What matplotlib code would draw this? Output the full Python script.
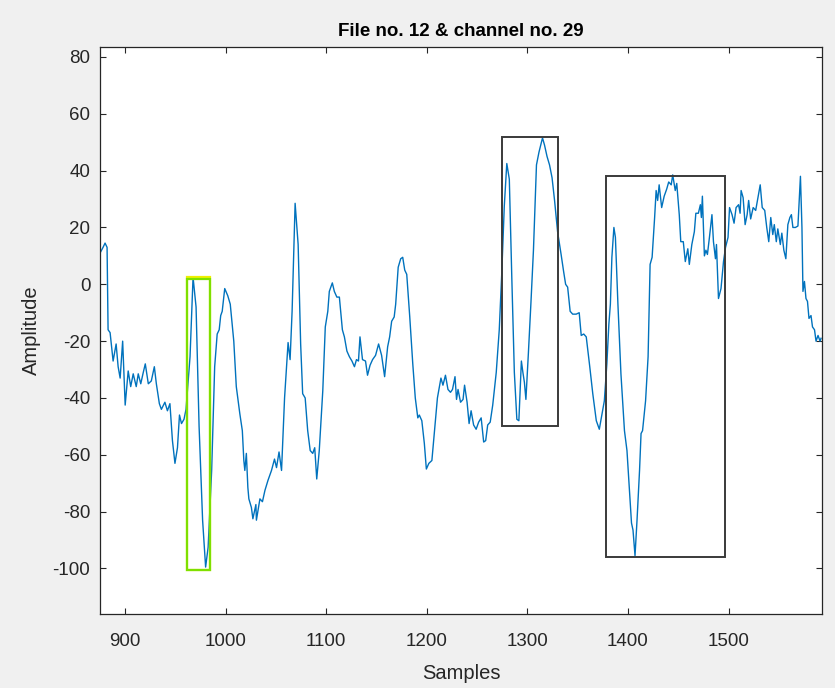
import matplotlib
matplotlib.use("Agg")
import matplotlib.pyplot as plt
from matplotlib.patches import Rectangle

# signal (sample index, amplitude)
samples = [
    875, 878, 880, 882, 883, 885, 888, 891, 893, 895, 897.5, 900, 903, 905.5, 908, 911, 913,
    915.5, 918, 920, 923, 926, 929, 931, 934, 936, 939.5, 942, 944.5, 947, 949.5, 952, 954,
    956, 958.5, 960.5, 964.5, 967.5, 970.5, 973.5, 977, 980, 982.5, 986, 989, 991.5, 993.5,
    995, 996.5, 999, 1002, 1004.5, 1008, 1010.5, 1014, 1016.5, 1018, 1019, 1020.5, 1022,
    1023, 1025.5, 1027, 1030, 1030.5, 1034, 1036.5, 1039, 1042, 1045.5, 1048.5, 1050.5,
    1053, 1055.5, 1058.5, 1062, 1064, 1066, 1069, 1072, 1074.5, 1076.5, 1079, 1081.5, 1084,
    1086.5, 1088.5, 1090.5, 1093, 1096.5, 1099, 1101.5, 1103, 1106, 1108, 1110.5, 1113, 1116,
    1118, 1120.5, 1123, 1125.5, 1128, 1130, 1132, 1133.5, 1136, 1139, 1141, 1143.5, 1146,
    1149, 1152, 1155, 1158, 1161, 1163, 1165, 1167.5, 1169, 1171.5, 1174, 1176, 1178, 1180,
    1183, 1186, 1188.5, 1191, 1192.5, 1195, 1197.5, 1199.5, 1202, 1205, 1207.5, 1210.5,
    1214, 1216, 1218.5, 1221, 1223.5, 1225.5, 1228, 1229.5, 1231, 1233.5, 1236, 1237.5, 1240,
    1242, 1244, 1246.5, 1249, 1251.5, 1254, 1256.5, 1258.5, 1260.5, 1263, 1265.5, 1269, 1272,
    1274.5, 1277, 1279.5, 1282, 1284.5, 1287, 1289.5, 1291.5, 1294, 1295.5, 1297, 1298.5,
    1301, 1303.5, 1306, 1309, 1311.5, 1315, 1317, 1319.5, 1322, 1324.5, 1327, 1330, 1333.5,
    1336, 1338, 1340, 1342.5, 1345, 1348.5, 1351.5, 1353.5, 1356, 1358.5, 1362, 1365, 1368.5,
    1371.5, 1373, 1376.5, 1379, 1381, 1382.5, 1384, 1386, 1387.5, 1390, 1393, 1396.5, 1399,
    1401.5, 1403.5, 1405, 1407, 1409, 1411.5, 1413, 1414.5, 1417.5, 1420, 1422, 1424, 1426.5,
    1428, 1429.5, 1431, 1433.5, 1436, 1438.5, 1440.5, 1443, 1444.5, 1447, 1448.5, 1451,
    1452.5, 1455, 1457, 1459.5, 1461, 1463.5, 1466, 1467.5, 1470, 1472, 1473, 1474, 1476,
    1477.5, 1479, 1481, 1483.5, 1485, 1487, 1488, 1490, 1492.5, 1495, 1497, 1499.5, 1501,
    1503.5, 1505.5, 1507.5, 1510, 1511.5, 1512.5, 1514.5, 1516.5, 1518.5, 1520, 1522,
    1524.5, 1527, 1529.5, 1531.5, 1533.5, 1536, 1538, 1540, 1542, 1544, 1545.5, 1547.5,
    1549, 1551.5, 1553, 1555, 1557, 1559, 1561, 1562.5, 1564, 1566.5, 1569, 1571.5, 1573,
    1574, 1575.5, 1577, 1578.5, 1580, 1582, 1583.5, 1585.5, 1587, 1589, 1591, 1592,
]
amplitude = [
    11, 13, 14.5, 13, -16, -17, -27, -21, -29, -33, -20, -42.5, -30.5, -36, -31.5, -36, -31.5,
    -35, -31, -28, -35, -34, -29, -35, -42, -44, -41.5, -44.5, -42, -55, -63, -57.5, -46,
    -49, -47.5, -44, -25.5, 2.5, -8, -50, -83, -99.5, -92.5, -65.5, -29, -17.5, -16,
    -11, -9.5, -1.5, -4, -7, -20, -36, -45.5, -51.5, -62, -65.5, -59.5, -71.5,
    -75.5, -78.5, -82.5, -77.5, -83, -75.5, -76.5, -72.5, -69, -65.5, -61.5, -64.5,
    -59, -65.5, -40, -20.5, -26.5, -9.5, 28.5, 14, -21, -38.5, -40, -51.5, -58.5,
    -59.5, -57.5, -68.5, -58.5, -37.5, -15, -9.5, -2.5, 0.5, -2.5, -4.5, -4.5, -16,
    -18.5, -23.5, -25.5, -27, -29, -26.5, -27, -18.5, -26.5, -27, -32, -28.5, -26.5,
    -25, -21, -25, -32.5, -22, -18.5, -13, -11.5, -7, 6, 9, 9.5, 5, 3.5,
    -11.5, -28, -40, -47, -46, -48, -56, -65, -63, -62, -52, -40,
    -33, -35.5, -32, -37, -38, -37, -32.5, -40.5, -37, -41.5, -40.5, -35.5, -41.5,
    -49, -44.5, -49.5, -51, -48.5, -47, -55.5, -55, -49.5, -48.5, -42.5, -31, -16,
    4, 27.5, 42.5, 37, 2, -31, -47.5, -48, -27, -31, -34.5, -40.5,
    -24, -6.5, 12, 42, 46.5, 51.5, 49, 45, 42, 37.5, 29.5, 18.5, 10.5,
    4.5, 0, -1, -9.5, -10.5, -10.5, -10, -18, -17.5, -18.5, -29, -38.5, -48,
    -51, -48, -41, -28, -14, -7, 9.5, 20, 16.5, -7, -31.5, -51.5, -58.5,
    -72.5, -84, -86.5, -95.5, -83, -65.5, -52.5, -51.5, -41, -25.5, 7, 9.5, 23.5,
    33, 29.5, 35, 27, 31, 33.5, 36, 35, 38.5, 33, 35.5, 24.5,
    15, 15, 8, 12.5, 7, 14, 18.5, 25, 25, 28, 23.5, 31, 10,
    12, 10.5, 16.5, 24.5, 15, 9, 14, -5, -1.5, 8, 13, 16.5, 27,
    24.5, 21.5, 27, 28, 25, 33, 30.5, 21, 24.5, 29.5, 23,
    27, 26, 31, 35, 27, 26, 20, 15, 23.5, 17.5, 21, 15,
    19.5, 14, 18, 12, 9, 21, 23.5, 24.5, 20, 20, 20.5, 38, 20,
    -2.5, 1, -5, -6, -12, -11, -15, -16, -20, -18, -20, -19,
]

# marked regions: (x0, x1, y0, y1)
green_box = (961.5, 984.4, -100.5, 2.0)
black_boxes = [(1274.7, 1330.4, -49.7, 51.7), (1378.1, 1496.5, -96.0, 38.0)]

x_ticks = [900, 1000, 1100, 1200, 1300, 1400, 1500]
y_ticks = [-100, -80, -60, -40, -20, 0, 20, 40, 60, 80]

plt.rcParams['font.family'] = ['Liberation Sans', 'DejaVu Sans']
plt.rcParams['axes.unicode_minus'] = False

fig = plt.figure(figsize=(8.35, 6.88), dpi=100, facecolor='#f0f0f0')
ax = fig.add_axes([0.1198, 0.1076, 0.8647, 0.8241])
ax.set_facecolor('white')

ax.plot(samples, amplitude, color='#0072BD', lw=1.0)

gx0, gx1, gy0, gy1 = green_box
ax.add_patch(Rectangle((gx0, gy0), gx1 - gx0, gy1 - gy0 + 0.5, fill=False,
                       edgecolor='#f0f000', lw=1.6, zorder=3))
ax.add_patch(Rectangle((gx0, gy0), gx1 - gx0, gy1 - gy0, fill=False,
                       edgecolor='#7ee000', lw=1.6, zorder=4))
for bx0, bx1, by0, by1 in black_boxes:
    ax.add_patch(Rectangle((bx0, by0), bx1 - bx0, by1 - by0, fill=False,
                           edgecolor='#3a3a3a', lw=1.4, zorder=3))

ax.set_xlim(875, 1593)
ax.set_ylim(-116, 83.5)
ax.set_xticks(x_ticks)
ax.set_yticks(y_ticks)

for s in ax.spines.values():
    s.set_color('#262626')
    s.set_linewidth(0.9)
ax.tick_params(direction='in', top=True, right=True, length=4, width=0.8,
               colors='#262626', labelsize=13.5)
ax.tick_params(axis='x', pad=14)
ax.tick_params(axis='y', pad=7)

ax.set_xlabel('Samples', fontsize=14.5, color='#262626', labelpad=10)
ax.set_ylabel('Amplitude', fontsize=14.5, color='#262626', labelpad=8)
ax.set_title('File no. 12 & channel no. 29', fontsize=13.5, fontweight='bold', pad=8)

fig.savefig('out.png', dpi=100, facecolor=fig.get_facecolor())
